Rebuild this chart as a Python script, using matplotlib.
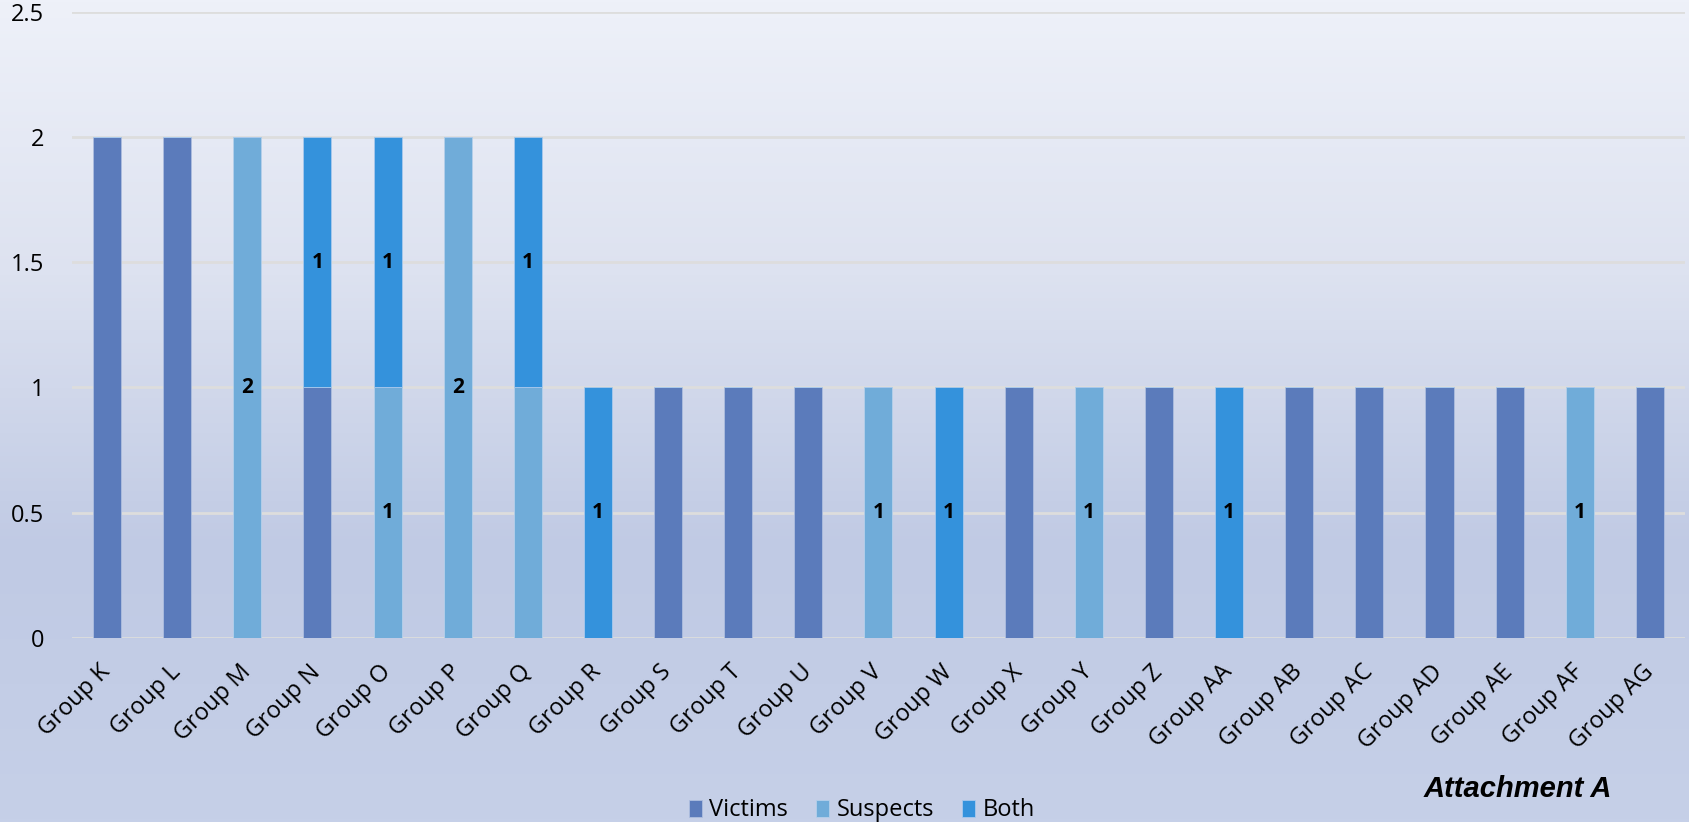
import numpy as np
import matplotlib
matplotlib.use("Agg")
import matplotlib.pyplot as plt
from matplotlib.colors import LinearSegmentedColormap

# Counts per group, stacked as victims / suspects / both
groups = ["Group K", "Group L", "Group M", "Group N", "Group O", "Group P", "Group Q",
          "Group R", "Group S", "Group T", "Group U", "Group V", "Group W", "Group X",
          "Group Y", "Group Z", "Group AA", "Group AB", "Group AC", "Group AD",
          "Group AE", "Group AF", "Group AG"]
victims = [2, 2, 0, 1, 0, 0, 0, 0, 1, 1, 1, 0, 0, 1, 0, 1, 0, 1, 1, 1, 1, 0, 1]
suspects = [0, 0, 2, 0, 1, 2, 1, 0, 0, 0, 0, 1, 0, 0, 1, 0, 0, 0, 0, 0, 0, 1, 0]
both = [0, 0, 0, 1, 1, 0, 1, 1, 0, 0, 0, 0, 1, 0, 0, 0, 1, 0, 0, 0, 0, 0, 0]
# Group Q's suspect segment carries no value label
suspect_labeled = [True] * 6 + [False] + [True] * 16
yticks = [0, 0.5, 1, 1.5, 2, 2.5]
ytick_labels = ["0", "0.5", "1", "1.5", "2", "2.5"]

plt.rcParams["font.family"] = ["Open Sans", "DejaVu Sans"]

fig = plt.figure(figsize=(16.9, 8.22), dpi=100)

# soft vertical gradient behind everything
bg = fig.add_axes([0, 0, 1, 1], zorder=-10)
grad = np.linspace(0, 1, 256).reshape(-1, 1)
cmap = LinearSegmentedColormap.from_list("bg", ["#eef1f9", "#dde2f0", "#c0cae4", "#c6d0e8"])
bg.imshow(grad, aspect="auto", cmap=cmap, extent=[0, 1, 0, 1], origin="upper")
bg.axis("off")

ax = fig.add_axes([0.0426, 0.2238, 0.9544, 0.762])
ax.patch.set_alpha(0)

x = np.arange(len(groups))
victims = np.array(victims)
suspects = np.array(suspects)
both = np.array(both)

c_v, c_s, c_b = "#5b7bbb", "#70acd9", "#3492dc"
w = 0.4
ax.bar(x, victims, w, color=c_v, edgecolor="#aebedf", linewidth=0.6, label="Victims", zorder=3)
bs = ax.bar(x, suspects, w, bottom=victims, color=c_s, edgecolor="#b5d0ea", linewidth=0.6,
            label="Suspects", zorder=3)
bb = ax.bar(x, both, w, bottom=victims + suspects, color=c_b, edgecolor="#a9c9ec", linewidth=0.6,
            label="Both", zorder=3)

s_labels = [str(v) if v and ok else "" for v, ok in zip(suspects, suspect_labeled)]
b_labels = [str(v) if v else "" for v in both]
for bars, labels in ((bs, s_labels), (bb, b_labels)):
    ax.bar_label(bars, labels=labels, label_type="center", fontsize=15,
                 fontweight="bold", color="black", zorder=4)

ax.set_xlim(-0.5, len(groups) - 0.5)
ax.set_ylim(0, 2.5)
ax.set_yticks(yticks)
ax.set_yticklabels(ytick_labels, fontsize=17)
ax.yaxis.grid(True, color="#dddddd", linewidth=2, zorder=0)
ax.tick_params(axis="y", length=0, pad=20)
ax.tick_params(axis="x", length=0, pad=22)
ax.set_xticks(x)
ax.set_xticklabels(groups, fontsize=17, rotation=45, ha="right", va="center",
                   rotation_mode="anchor")
for s in ax.spines.values():
    s.set_visible(False)

fig.legend(loc="center", bbox_to_anchor=(0.51, 0.014), ncol=3, frameon=False,
           fontsize=17, handlelength=0.55, handleheight=0.75, handletextpad=0.3,
           columnspacing=1.2)

fig.text(0.898, 0.040, "Attachment A", fontsize=21, fontweight="bold", style="italic",
         family="Liberation Sans", ha="center", va="center")

fig.savefig("out.png", dpi=100)
